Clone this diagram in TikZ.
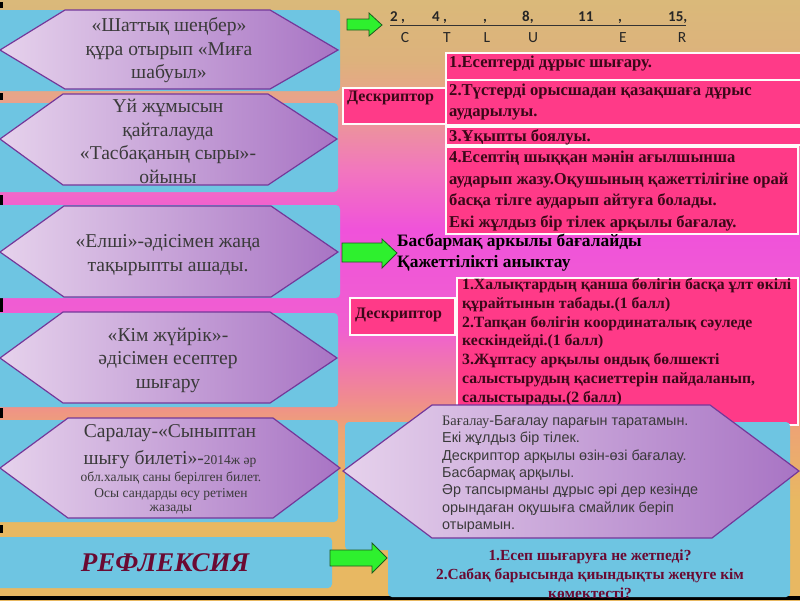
\documentclass[tikz,border=0pt]{standalone}
\usepackage{fontspec}
\setmainfont{Liberation Serif}
\newfontfamily\sansf{Liberation Sans}
\newfontfamily\calf{Carlito}
\definecolor{bgTan}{HTML}{DAB97A}
\definecolor{bgTanB}{HTML}{DDB27C}
\definecolor{bgPeach}{HTML}{E9A38A}
\definecolor{bgPink}{HTML}{F276BE}
\definecolor{bgMag}{HTML}{F052DA}
\definecolor{bgMagB}{HTML}{F060D0}
\definecolor{bgSal}{HTML}{F08C8E}
\definecolor{bgOr}{HTML}{EDA474}
\definecolor{bgGold}{HTML}{E8B862}
\definecolor{skyb}{HTML}{6EC5E2}
\definecolor{hexL}{HTML}{E6D2EC}
\definecolor{hexR}{HTML}{A874C4}
\definecolor{hexB}{HTML}{74389A}
\definecolor{hexT}{HTML}{3A3A3A}
\definecolor{hotp}{HTML}{FF3A88}
\definecolor{dtxt}{HTML}{3A0818}
\definecolor{garr}{HTML}{2EF02E}
\definecolor{gdark}{HTML}{1E5A1E}
\definecolor{maroon}{HTML}{6A0A32}
\pgfdeclareverticalshading{bgshade}{100bp}{color(0bp)=(bgGold); color(25bp)=(bgGold); color(33.3bp)=(bgGold); color(39.2bp)=(bgOr); color(41.7bp)=(bgSal); color(47.5bp)=(bgMagB); color(55.8bp)=(bgMag); color(60.8bp)=(bgPink); color(66.7bp)=(bgPeach); color(70bp)=(bgTanB); color(75bp)=(bgTan); color(100bp)=(bgTan)}
\begin{document}
\begin{tikzpicture}[x=1pt,y=-1pt,
  bluebox/.style={fill=skyb, rounded corners=4pt},
  hexa/.style={left color=hexL, right color=hexR, draw=hexB, line width=1.2pt},
  pinkbox/.style={fill=hotp, draw=white!92!pink, line width=1.5pt},
  garrow/.style={fill=garr, draw=gdark, line width=0.8pt},
  hextext/.style={text=hexT, align=center, inner sep=0pt, font=\fontsize{19.6}{23.5}\selectfont},
  hexsmall/.style={text=hexT, inner sep=0pt, font=\fontsize{13.5}{16}\selectfont},
  dtext/.style={text=dtxt, align=left, inner sep=0pt, font=\bfseries\fontsize{16.6}{21.7}\selectfont},
  ctext/.style={text=dtxt, align=left, inner sep=0pt, font=\bfseries\fontsize{15.7}{18.8}\selectfont},
  numtext/.style={text=black!85, inner sep=0pt, font=\calf\bfseries\fontsize{15}{18}\selectfont},
  lettext/.style={text=black!85, inner sep=0pt, font=\calf\fontsize{15.5}{18}\selectfont},
  qtext/.style={text=maroon, inner sep=0pt, font=\bfseries\fontsize{15.4}{18}\selectfont}
]
\useasboundingbox (0,0) rectangle (800,600);
\shade[shading=bgshade] (0,0) rectangle (800,600);

% left edge marks and bottom line
\foreach \a/\b in {2/8, 93/100, 195/205, 298/312, 408/418, 525/533}
  \fill[black] (0,\a) rectangle (3,\b);
\fill[black] (0,596) rectangle (800,600);

% left blue boxes
\fill[bluebox] (-5,10) rectangle (340,91);
\fill[bluebox] (-5,103) rectangle (338,192);
\fill[bluebox] (-5,205) rectangle (340,298);
\fill[bluebox] (-5,313) rectangle (338,407);
\fill[bluebox] (-5,420) rectangle (338,522);
\fill[bluebox] (-5,537) rectangle (332,588);

% left hexagons
\path[hexa] (0,50) -- (65,10) -- (270,10) -- (338,50) -- (270,89) -- (65,89) -- cycle;
\path[hexa] (0,139) -- (63,94) -- (268,94) -- (337,139) -- (268,185) -- (63,185) -- cycle;
\path[hexa] (0,252) -- (64,206) -- (271,206) -- (338,252) -- (271,297) -- (64,297) -- cycle;
\path[hexa] (0,358) -- (63,312) -- (270,312) -- (337,358) -- (270,403) -- (63,403) -- cycle;
\path[hexa] (0,468) -- (68,418) -- (273,418) -- (340,468) -- (273,518) -- (68,518) -- cycle;

\node[hextext] (h1) at (169,50.5) {«Шаттық шеңбер»\\құра отырып «Миға\\шабуыл»};
\node[hextext] (h2) at (168,141.5) {Үй жұмысын\\қайталауда\\«Тасбақаның сыры»-\\ойыны};
\node[hextext] (h3) at (168,255) {«Елші»-әдісімен жаңа\\тақырыпты ашады.};
\node[hextext] (h4) at (168,360) {«Кім жүйрік»-\\әдісімен есептер\\шығару};
\node[hextext] (h5a) at (170,433) {Саралау-«Сыныптан};
\node[hextext] (h5b) at (170,460) {шығу билеті»-{\fontsize{13.5}{16}\selectfont 2014ж әр}};
\node[hexsmall] (h5c) at (171,478) {обл.халық саны берілген билет.};
\node[hexsmall] (h5d) at (171,494) {Осы сандарды өсу ретімен};
\node[hexsmall] (h5e) at (171,510) {жазады};

% reflection
\node[text=maroon, inner sep=0pt, font=\bfseries\itshape\fontsize{27}{30}\selectfont] (refl) at (165,563) {РЕФЛЕКСИЯ};

% top arrow and number line
\path[garrow] (347,19) -- (369,19) -- (369,13) -- (382,25) -- (369,36) -- (369,30) -- (347,30) -- cycle;
\draw[black!80, line width=1pt] (390,25) -- (686,25);
\node[numtext, anchor=base west] (n2) at (390,21) {2 ,};
\node[numtext, anchor=base west] (n4) at (432,21) {4 ,};
\node[numtext, anchor=base west] (nc1) at (483,21) {,};
\node[numtext, anchor=base west] (n8) at (522,21) {8,};
\node[numtext, anchor=base west] (n11) at (578,21) {11};
\node[numtext, anchor=base west] (nc2) at (618,21) {,};
\node[numtext, anchor=base west] (n15) at (668,21) {15,};
\node[lettext, anchor=base] (lC) at (405,42) {C};
\node[lettext, anchor=base] (lT) at (447,42) {T};
\node[lettext, anchor=base] (lL) at (487,42) {L};
\node[lettext, anchor=base] (lU) at (533,42) {U};
\node[lettext, anchor=base] (lE) at (623,42) {E};
\node[lettext, anchor=base] (lR) at (682,42) {R};

% first descriptor block
\path[pinkbox] (343,88) rectangle (446,124);
\path[pinkbox] (446,53) rectangle (802,80);
\path[pinkbox] (446,80) rectangle (802,125);
\path[pinkbox] (446,127) rectangle (802,145);
\path[pinkbox] (446,147) rectangle (798,234);
\node[dtext, anchor=base west, font=\bfseries\fontsize{16}{20}\selectfont] (ds1) at (347,101) {Дескриптор};
\node[dtext, anchor=base west] (d1) at (449,67) {1.Есептерді дұрыс шығару.};
\node[dtext, anchor=west] (d2) at (449,102) {2.Түстерді орысшадан қазақшаға дұрыс\\аударылуы.};
\node[dtext, anchor=base west] (d3) at (449,141) {3.Ұқыпты боялуы.};
\node[dtext, anchor=west] (d4) at (449,191) {4.Есептің шыққан мәнін ағылшынша\\аударып жазу.Оқушының қажеттілігіне орай\\басқа тілге аударып айтуға болады.\\Екі жұлдыз бір тілек арқылы бағалау.};

% middle arrow and text
\path[garrow] (342,243) -- (382,243) -- (382,239) -- (397,253) -- (382,268) -- (382,262) -- (342,262) -- cycle;
\node[ctext, text=black, font=\bfseries\fontsize{17.4}{21}\selectfont, anchor=west] (bas) at (397,253) {Басбармақ аркылы бағалайды\\Қажеттілікті аныктау};

% second descriptor block
\path[pinkbox] (457,278) rectangle (798,425);
\path[pinkbox] (350,298) rectangle (455,335);
\node[ctext, anchor=base west, font=\bfseries\fontsize{16}{18.8}\selectfont] (ds2) at (355,318) {Дескриптор};
\node[ctext, anchor=west] (c1) at (462,342) {1.Халықтардың қанша бөлігін басқа ұлт өкілі\\құрайтынын табады.(1 балл)\\2.Тапқан бөлігін координаталық сәуледе\\кескіндейді.(1 балл)\\3.Жұптасу арқылы ондық бөлшекті\\салыстырудың қасиеттерін пайдаланып,\\салыстырады.(2 балл)};

% bottom right
\fill[bluebox] (345,422) rectangle (790,550);
\fill[bluebox] (388,540) rectangle (790,597);
\path[hexa] (343,471) -- (432,405) -- (710,405) -- (799,471) -- (712,538) -- (432,538) -- cycle;
\node[text=hexT, align=left, inner sep=0pt, anchor=west, font=\sansf\fontsize{14.4}{17.3}\selectfont] (bh) at (442,474) {{\rmfamily Бағалау}-Бағалау парағын таратамын.\\Екі жұлдыз бір тілек.\\Дескриптор арқылы өзін-өзі бағалау.\\Басбармақ арқылы.\\Әр тапсырманы дұрыс әрі дер кезінде\\орындаған оқушыға смайлик беріп\\отырамын.};
\path[garrow] (330,550) -- (372,550) -- (372,543) -- (387,558) -- (372,573) -- (372,566) -- (330,566) -- cycle;
\node[qtext, anchor=base] (q1) at (590,560) {1.Есеп шығаруға не жетпеді?};
\node[qtext, anchor=base] (q2) at (590,579) {2.Сабақ барысында қиындықты жеңуге кім};
\node[qtext, anchor=base] (q3) at (590,598) {көмектесті?};
\end{tikzpicture}
\end{document}
